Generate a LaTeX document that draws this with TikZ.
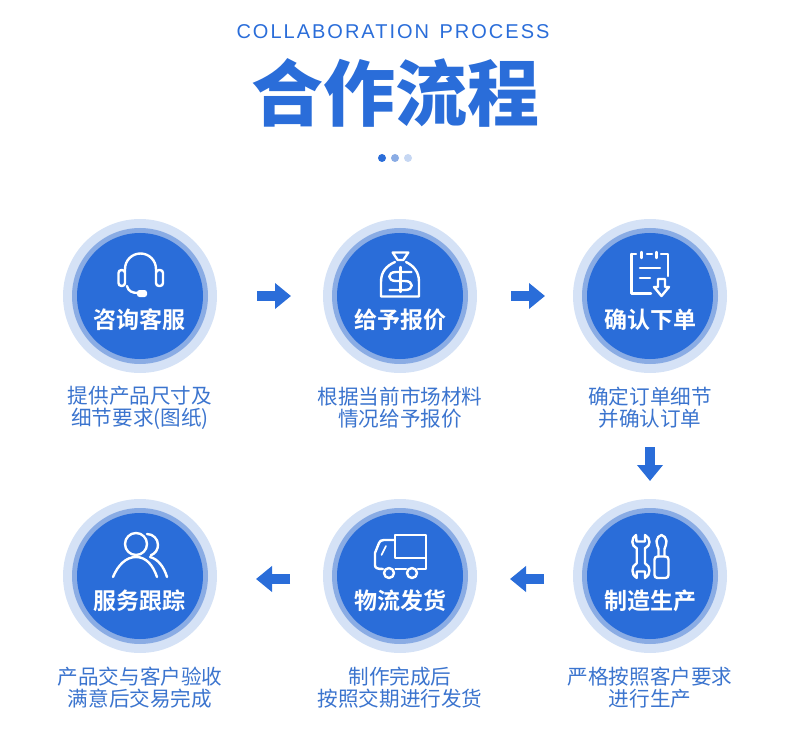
\documentclass[tikz,border=0pt]{standalone}
\usepackage{fontspec}
\usepackage{xcolor}
\usetikzlibrary{arrows.meta}
\setmainfont{Liberation Sans}
\newfontfamily\cjk{Noto Sans CJK SC}
\newfontfamily\cjkbold{Noto Sans CJK SC Bold}
\newfontfamily\cjkblack{Noto Sans CJK SC Black}
\newfontfamily\latinspaced[LetterSpace=10]{Liberation Sans}
\definecolor{mainblue}{HTML}{2A6DD9}
\definecolor{midring}{HTML}{8AACE4}
\definecolor{outerring}{HTML}{D5E2F6}
\definecolor{textblue}{HTML}{3B74CE}
\tikzset{
    steptitle/.style={font=\cjkbold\fontsize{23}{24}\selectfont, text=white},
    stepnote/.style={font=\cjk\fontsize{20.6}{22.5}\selectfont, text=textblue, align=center},
    flowarrow/.style={mainblue, line width=10.5pt, -{Triangle[length=16pt,width=25pt]}},
    iconline/.style={white, line width=2.4pt, line cap=round, line join=round}
}
\newcommand{\stepdisc}[2]{%
    \fill[outerring] (#1,#2) circle (77);
    \fill[midring] (#1,#2) circle (68);
    \fill[mainblue] (#1,#2) circle (63);
}
\begin{document}
\begin{tikzpicture}[x=1pt, y=-1pt, line width=0.8pt]
\useasboundingbox (0,0) rectangle (790,738);

% Heading
\node (subtitle) at (393,32) {\latinspaced\fontsize{20}{22}\selectfont\color{mainblue} COLLABORATION\hspace{3pt} PROCESS};
\node[font=\cjkblack\fontsize{72}{76}\selectfont, text=mainblue] (title) at (395,93) {合作流程};

% Dots
\fill[mainblue] (382,158) circle (4);
\fill[midring] (395,158) circle (4);
\fill[outerring!80!midring] (408,158) circle (4);

% Discs
\foreach \x in {140,400,650} {
    \foreach \y in {296,576} {
        \stepdisc{\x}{\y}
    }
}

% Step titles
\node[steptitle] (consult) at (139.5,320) {咨询客服};
\node[steptitle] (quote) at (400,320) {给予报价};
\node[steptitle] (order) at (650,320) {确认下单};
\node[steptitle] (make) at (650,601) {制造生产};
\node[steptitle] (ship) at (400,601) {物流发货};
\node[steptitle] (track) at (139.5,601) {服务跟踪};

% Step notes
\node[stepnote] (consultnote) at (140,407.7) {提供产品尺寸及\\细节要求(图纸)};
\node[stepnote] (quotenote) at (400,407.7) {根据当前市场材料\\情况给予报价};
\node[stepnote] (ordernote) at (650,407.7) {确定订单细节\\并确认订单};
\node[stepnote] (makenote) at (650,687.5) {严格按照客户要求\\进行生产};
\node[stepnote] (shipnote) at (400,687.5) {制作完成后\\按照交期进行发货};
\node[stepnote] (tracknote) at (140,687.5) {产品交与客户验收\\满意后交易完成};

% Arrows
\coordinate (a1) at (257,296); \coordinate (a2) at (291,296);
\coordinate (b1) at (511,296); \coordinate (b2) at (545,296);
\coordinate (c1) at (650,447); \coordinate (c2) at (650,481);
\coordinate (d1) at (544,579); \coordinate (d2) at (510,579);
\coordinate (e1) at (290,579); \coordinate (e2) at (256,579);
\draw[flowarrow] (a1) -- (a2);
\draw[flowarrow] (b1) -- (b2);
\draw[flowarrow] (c1) -- (c2);
\draw[flowarrow] (d1) -- (d2);
\draw[flowarrow] (e1) -- (e2);

% Headset
\draw[iconline] (125,272) -- (125,269) arc (180:360:15.5) -- (156,272);
\draw[iconline, rounded corners=3] (118.5,270) rectangle (125,286);
\draw[iconline, rounded corners=3] (156,270) rectangle (163,286);
\draw[iconline] (127,286) .. controls (128,291) and (132,293) .. (138,293);
\fill[white, rounded corners=2.5] (137,290) rectangle (147,297);

% Money bag
\draw[iconline] (392.7,252.5) -- (408.3,252.5) -- (403.3,260) -- (397.7,260) -- cycle;
\draw[iconline] (395,262) .. controls (386,266) and (381,272) .. (381,282) -- (381,296.5) -- (419,296.5) -- (419,282) .. controls (419,272) and (414,266) .. (406,262);
\draw[iconline] (411.5,272) -- (396,272) .. controls (387,272) and (387,281) .. (396,281) -- (405,281) .. controls (414,281) and (414,290) .. (405,290) -- (389.5,290);
\draw[iconline] (400.5,267) -- (400.5,292);

% Order sheet
\draw[iconline] (631.5,254) -- (631.5,293.5) -- (651,293.5);
\draw[iconline] (631.5,254) -- (636,254);
\draw[iconline] (647,254) -- (652,254);
\draw[iconline] (661,254) -- (668,254) -- (668,276);
\draw[iconline] (641.5,252) -- (641.5,258);
\draw[iconline] (656.5,252) -- (656.5,258);
\draw[iconline] (640,268) -- (660,268);
\draw[iconline] (640,278) -- (650,278);
\draw[iconline] (658,279) -- (665,279) -- (665,287) -- (669,287) -- (661.5,296) -- (654,287) -- (658,287) -- cycle;

% Tools
\draw[iconline] (636,535) .. controls (631,538) and (631,546) .. (636.7,548.3) -- (636.7,563.3)
    .. controls (631,566) and (631,575) .. (636.7,578) -- (636.7,571.5) -- (645,571.5) -- (645,578)
    .. controls (651,575) and (651,566) .. (645,563.3) -- (645,548.3)
    .. controls (651,546) and (651,538) .. (645,535) -- (645,541.5) -- (636.5,541.5) -- cycle;
\draw[iconline, rounded corners=3] (654.5,556.5) rectangle (668.5,578);
\draw[iconline] (658.5,556.5) -- (658.5,549) .. controls (658,546) and (656,544) .. (656.5,541) .. controls (657,538) and (659,535.5) .. (661.5,535)
    .. controls (664,535.5) and (666,538) .. (666.5,541) .. controls (667,544) and (665,546) .. (664.5,549) -- (664.5,556.5);

% Truck
\draw[iconline] (395,535) rectangle (426,558);
\draw[iconline] (395,540) -- (384,540) .. controls (381,540) and (380,541) .. (379,543) -- (375,553) -- (375,565) .. controls (375,568) and (377,569) .. (383,569);
\draw[iconline] (395.5,569) -- (406,569);
\draw[iconline] (418,569) -- (426,569) -- (426,558);
\draw[iconline] (389,573) circle (5);
\draw[iconline] (412,573) circle (5);
\draw[iconline, line width=1.6pt] (386,546) -- (381.5,555);

% People
\draw[iconline] (136,544) circle (11);
\draw[iconline] (147,534) arc (-90:70:11);
\draw[iconline] (113,577) .. controls (118,565) and (126,557) .. (136,557) .. controls (146,557) and (153,565) .. (157,577);
\draw[iconline] (150,557) .. controls (158,559) and (164,567) .. (167,577);

\end{tikzpicture}
\end{document}
